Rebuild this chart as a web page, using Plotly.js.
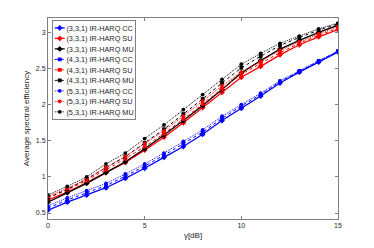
<!DOCTYPE html>
<html><head><meta charset="utf-8">
<script src="https://cdn.plot.ly/plotly-3.0.1.min.js"></script>
<style>
html,body{margin:0;padding:0;background:#fff;overflow:hidden;}
#wrap{width:374px;height:248px;overflow:hidden;position:relative;}
#chart{width:1122px;height:744px;transform:scale(0.33333333);transform-origin:0 0;position:absolute;left:0;top:0;}
</style>
</head><body><div id="wrap"><div id="chart"></div></div>
<script>
const snr = [0,1,2,3,4,5,6,7,8,9,10,11,12,13,14,15];
const names = ["(3,3,1) IR-HARQ CC","(3,3,1) IR-HARQ SU","(3,3,1) IR-HARQ MU",
               "(4,3,1) IR-HARQ CC","(4,3,1) IR-HARQ SU","(4,3,1) IR-HARQ MU",
               "(5,3,1) IR-HARQ CC","(5,3,1) IR-HARQ SU","(5,3,1) IR-HARQ MU"];
const cc331 = [0.54,0.65,0.75,0.85,0.98,1.12,1.27,1.42,1.59,1.78,1.95,2.12,2.30,2.45,2.59,2.73];
const su331 = [0.68,0.79,0.92,1.06,1.20,1.37,1.55,1.75,1.96,2.17,2.38,2.53,2.69,2.83,2.94,3.04];
const mu331 = [0.65,0.78,0.91,1.06,1.21,1.39,1.58,1.78,1.99,2.21,2.44,2.61,2.77,2.89,3.00,3.10];
const cc431 = [0.57,0.68,0.78,0.88,1.01,1.15,1.30,1.46,1.62,1.81,1.98,2.14,2.32,2.46,2.60,2.74];
const su431 = [0.71,0.82,0.95,1.10,1.25,1.42,1.60,1.80,2.01,2.22,2.42,2.57,2.72,2.85,2.96,3.06];
const mu431 = [0.71,0.83,0.97,1.13,1.28,1.47,1.66,1.87,2.08,2.30,2.51,2.67,2.82,2.93,3.03,3.12];
const cc531 = [0.60,0.71,0.81,0.91,1.04,1.18,1.33,1.49,1.65,1.84,2.00,2.16,2.33,2.47,2.61,2.74];
const su531 = [0.73,0.84,0.97,1.13,1.28,1.46,1.64,1.84,2.05,2.26,2.45,2.60,2.75,2.87,2.98,3.08];
const mu531 = [0.75,0.87,1.00,1.18,1.33,1.53,1.72,1.93,2.14,2.35,2.56,2.71,2.85,2.95,3.05,3.13];
const xTicks = [0,5,10,15];
const yTicks = [0.5,1,1.5,2,2.5,3];

// rendered at 3x, then scaled down by CSS to 374x248
const S = 3;
const series = [cc331,su331,mu331,cc431,su431,mu431,cc531,su531,mu531];
const colors = ['#0000ff','#ff0000','#000000'];
const dashes = ['solid','dash','dot'];
const symbols = ['diamond','square','circle'];
const widths = [1.3,1,1];
const msizes = [4.5,3.8,3.8];
const traces = series.map((y,i)=>{
  const g = Math.floor(i/3), c = i%3;
  return {x:snr, y:y, name:names[i], type:'scatter', mode:'lines+markers',
    line:{color:colors[c], dash:dashes[g], width:widths[g]*S},
    marker:{symbol:symbols[g], size:msizes[g]*S, color:colors[c]}};
});
const layout = {
  width:374*S, height:248*S,
  margin:{l:48*S, r:36*S, t:18*S, b:29*S},
  paper_bgcolor:'#fff', plot_bgcolor:'#fff',
  font:{family:'Liberation Sans, Arial, sans-serif', size:7*S, color:'#262626'},
  xaxis:{range:[0,15], tickvals:xTicks, ticks:'inside', ticklen:3*S, tickwidth:S, tickcolor:'#808080',
    showline:true, linecolor:'#808080', linewidth:S, mirror:'allticks', showgrid:false, zeroline:false,
    tickfont:{size:7*S}, title:{text:'γ[dB]', font:{size:8*S}, standoff:3*S}},
  yaxis:{range:[0.417,3.2], tickvals:yTicks, ticks:'inside', ticklen:3*S, tickwidth:S, tickcolor:'#808080',
    showline:true, linecolor:'#808080', linewidth:S, mirror:'allticks', showgrid:false, zeroline:false,
    tickfont:{size:7*S}, title:{text:'Average spectral efficiency', font:{size:8*S}, standoff:5*S}},
  legend:{x:0.014, y:0.99, xanchor:'left', yanchor:'top', bgcolor:'#fff', bordercolor:'#808080',
    borderwidth:S, font:{size:7.3*S}, tracegroupgap:0, itemwidth:30},
  showlegend:true
};
Plotly.newPlot('chart', traces, layout, {staticPlot:true});
</script></body></html>
